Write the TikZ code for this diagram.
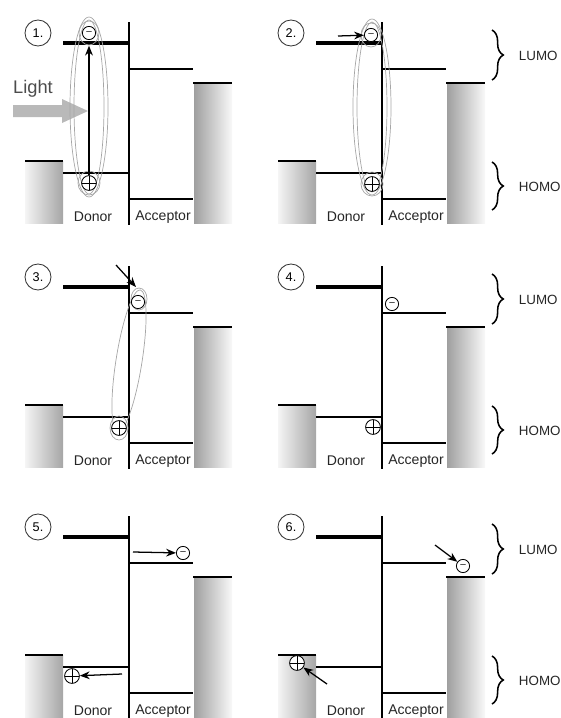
\documentclass[tikz,border=0pt]{standalone}
\usepackage{fontspec}
\setmainfont{Liberation Sans}
\usetikzlibrary{arrows.meta,decorations.pathreplacing}
\begin{document}
\begin{tikzpicture}[x=0.025cm, y=-0.025cm,
  level/.style={line width=2.1pt},
  dlumo/.style={line width=2.8pt},
  iface/.style={line width=1.3pt},
  pair/.style={draw=gray!70, line width=0.5pt},
  arr/.style={line width=0.9pt, -{Stealth[length=7pt,width=5.5pt]}},
  elec/.style={circle, draw, line width=0.6pt, fill=white, inner sep=0pt,
    minimum size=0.33cm, font=\fontsize{7}{7}\selectfont},
  hole/.style={circle, draw, line width=0.6pt, fill=white, inner sep=0pt,
    minimum size=0.37cm, path picture={
      \draw[line width=0.6pt] (path picture bounding box.north) -- (path picture bounding box.south)
        (path picture bounding box.west) -- (path picture bounding box.east);}},
  numcirc/.style={circle, draw=black!80, line width=0.6pt, minimum size=0.65cm,
    inner sep=0pt, font=\fontsize{9}{9}\selectfont},
  lbl/.style={font=\fontsize{10}{12}\selectfont, text=black!85},
  orb/.style={font=\fontsize{9.5}{11}\selectfont, text=black!85, anchor=west},
  brc/.style={decorate, decoration={brace, amplitude=8pt}, line width=1.1pt}]
\useasboundingbox (0,0) rectangle (560,718);
\foreach \dx/\dy [count=\i] in {0/0,253/0,0/244,253/244,0/494,253/494}{
  \begin{scope}[shift={(\dx,\dy)}]
    \shade[left color=gray!8, right color=gray!70] (25,161) rectangle (63,223);
    \shade[left color=gray!75, right color=gray!5] (194,83) rectangle (232,223);
    \draw[level] (25,161) -- (63,161);
    \draw[level] (193,83) -- (232,83);
    \draw[dlumo] (63,43) -- (129,43);
    \draw[level] (63,173) -- (129,173);
    \draw[level] (129,69) -- (193,69);
    \draw[level] (129,199) -- (193,199);
    \draw[iface] (129,22) -- (129,225);
    \node[numcirc] (num\i) at (38,33) {\i.};
    \node[lbl] (don\i) at (93,217) {Donor};
    \node[lbl] (acc\i) at (163,217) {Acceptor};
  \end{scope}
}
\foreach \dy [count=\j] in {0,244,494}{
  \draw[brc] (492,30+\dy) -- (492,80+\dy);
  \draw[brc] (492,162+\dy) -- (492,210+\dy);
  \node[orb] (lumo\j) at (514,56+\dy) {LUMO};
  \node[orb] (homo\j) at (514,187+\dy) {HOMO};
}
% 1. absorption
\fill[gray!55] (13,105) -- (62,105) -- (62,99) -- (88,111) -- (62,123) -- (62,117) -- (13,117) -- cycle;
\node[font=\fontsize{13}{15}\selectfont, text=black!70] (light) at (33,89) {Light};
\draw[pair] (89,107) ellipse [x radius=19, y radius=90];
\draw[pair] (89,107) ellipse [x radius=15, y radius=87];
\draw[pair] (89,33) ellipse [x radius=10, y radius=12];
\draw[pair] (89,183) ellipse [x radius=11, y radius=12];
\node[elec] (e1) at (89,33) {\textendash};
\node[hole] (h1) at (89,183) {};
\draw[arr, shorten >=4pt] (h1) -- (e1);
% 2. diffusion
\draw[pair] (372,107) ellipse [x radius=19, y radius=88];
\draw[pair] (372,107) ellipse [x radius=15, y radius=85];
\draw[pair] (371,35) ellipse [x radius=10, y radius=12];
\draw[pair] (372,184) ellipse [x radius=11, y radius=12];
\node[elec] (e2) at (371,35) {\textendash};
\node[hole] (h2) at (372,184) {};
\coordinate (a2) at (338,36);
\draw[arr] (a2) -- (e2);
% 3. charge transfer
\draw[pair, rotate around={-9:(129,361)}] (129,361) ellipse [x radius=13, y radius=72];
\draw[pair] (139,299) ellipse [x radius=8, y radius=11];
\draw[pair] (119,428) ellipse [x radius=9, y radius=12];
\node[elec] (e3) at (138,302) {\textendash};
\node[hole] (h3) at (119,428) {};
\coordinate (a3) at (116,265);
\coordinate (b3) at (136,287);
\draw[arr] (a3) -- (b3);
% 4. separation
\node[elec] (e4) at (392,304) {\textendash};
\node[hole] (h4) at (373,427) {};
% 5. transport
\node[elec] (e5) at (183,553) {\textendash};
\node[hole] (h5) at (72,676) {};
\coordinate (a5) at (133,552);
\coordinate (b5) at (122,674);
\draw[arr] (a5) -- (e5);
\draw[arr] (b5) -- (h5);
% 6. collection
\node[elec] (e6) at (463,566) {\textendash};
\node[hole] (h6) at (297,663) {};
\coordinate (a6) at (435,545);
\coordinate (b6) at (327,684);
\draw[arr] (a6) -- (e6);
\draw[arr] (b6) -- (h6);
\end{tikzpicture}
\end{document}
